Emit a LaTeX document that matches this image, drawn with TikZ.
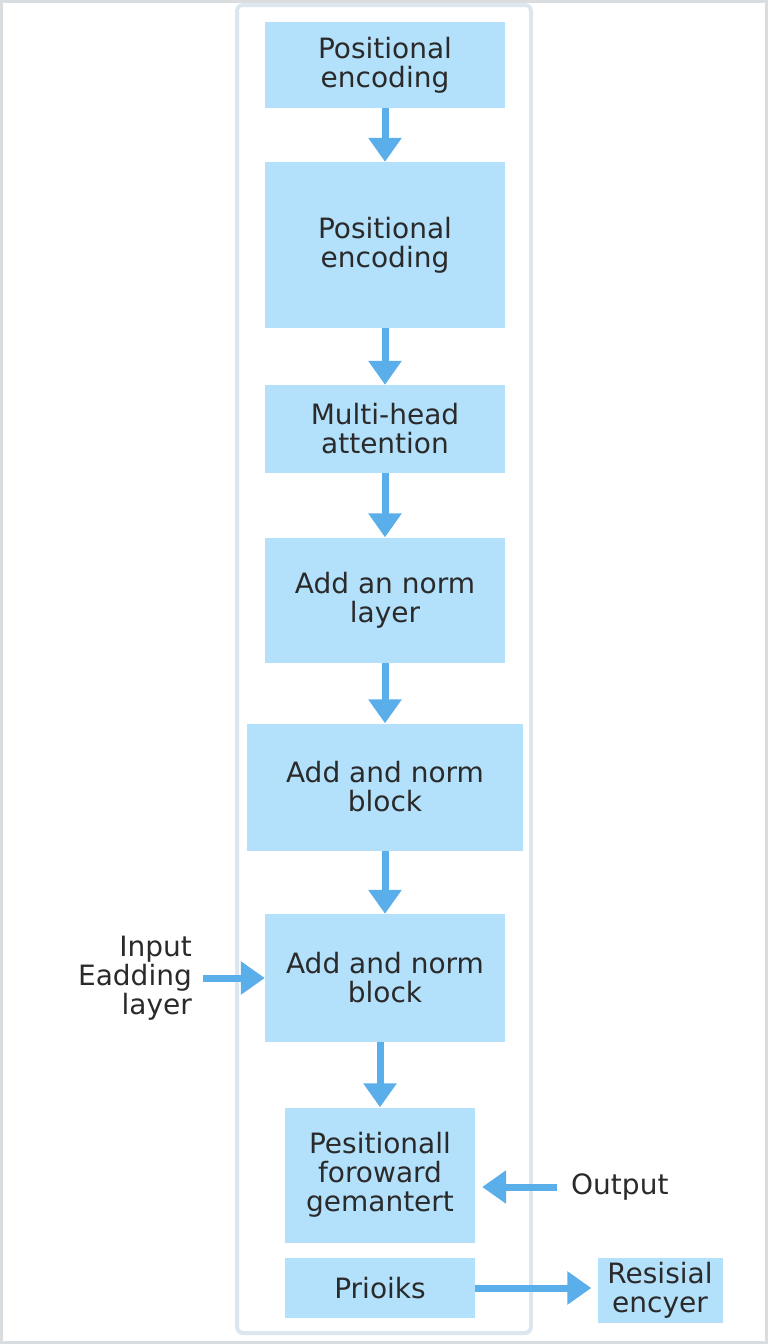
\documentclass[tikz,border=0pt]{standalone}
\usepackage{fontspec}
\setmainfont{DejaVu Sans}
\usepackage{tikz}
\usetikzlibrary{arrows.meta, positioning}

\definecolor{boxblue}{HTML}{B3E0FB}
\definecolor{arrowblue}{HTML}{5AAEEA}
\definecolor{framegray}{HTML}{DCE6EE}
\definecolor{edgegray}{HTML}{D9DDE0}
\definecolor{txt}{HTML}{2A2A2A}

\begin{document}
\begin{tikzpicture}[x=1pt, y=-1pt, >={Triangle[width=32pt,length=24pt]},
    layerbox/.style={fill=boxblue, draw=none, text=txt, align=center,
        font=\fontsize{28}{29}\selectfont, inner sep=0pt},
    sidelabel/.style={text=txt, align=center,
        font=\fontsize{28}{29}\selectfont, inner sep=0pt},
    flow/.style={->, draw=arrowblue, line width=7pt}]

        \useasboundingbox (0,0) rectangle (768,1344);

        % Draw the page edge and the column frame
        \draw[edgegray, line width=3pt] (1.5,1.5) rectangle (766.5,1342.5);
        \draw[framegray, line width=4pt, rounded corners=6pt, fill=white] (237,5) rectangle (531,1333);

        % Draw the blocks of the column
        \node[layerbox, minimum width=240pt, minimum height=86pt] (pos1) at (385,65) {Positional\\encoding};
        \node[layerbox, minimum width=240pt, minimum height=166pt] (pos2) at (385,245) {Positional\\encoding};
        \node[layerbox, minimum width=240pt, minimum height=88pt] (mha) at (385,429) {Multi-head\\attention};
        \node[layerbox, minimum width=240pt, minimum height=125pt] (addlayer) at (385,600) {Add an norm\\layer};
        \node[layerbox, minimum width=276pt, minimum height=127pt] (addblk1) at (385,787) {Add and norm\\block};
        \node[layerbox, minimum width=240pt, minimum height=128pt] (addblk2) at (385,978) {Add and norm\\block};
        \node[layerbox, minimum width=190pt, minimum height=135pt] (ffwd) at (380,1175) {Pesitionall\\foroward\\gemantert};
        \node[layerbox, minimum width=190pt, minimum height=60pt] (prio) at (380,1288) {Prioiks};
        \node[layerbox, minimum width=125pt, minimum height=65pt] (resid) at (660,1290) {Resisial\\encyer};

        % Labels outside the column
        \node[sidelabel, align=right, anchor=east] (inp) at (192,978) {Input\\Eadding\\layer};
        \node[sidelabel, anchor=west] (outp) at (571,1187) {Output};
        \coordinate (inpend) at (203,978);
        \coordinate (outpend) at (557,1187);

        % Arrows down the column
        \draw[flow] (pos1) -- (pos2);
        \draw[flow] (pos2) -- (mha);
        \draw[flow] (mha) -- (addlayer);
        \draw[flow] (addlayer) -- (addblk1);
        \draw[flow] (addblk1) -- (addblk2);
        \draw[flow] (addblk2.south -| ffwd) -- (ffwd);

        % Arrows from and to the side
        \draw[flow] (inpend) -- (addblk2.west);
        \draw[flow, shorten >=7pt] (outpend) -- (outpend -| ffwd.east);
        \draw[flow, shorten >=6pt] (prio.east) -- (prio.east -| resid.west);
    \end{tikzpicture}
\end{document}
